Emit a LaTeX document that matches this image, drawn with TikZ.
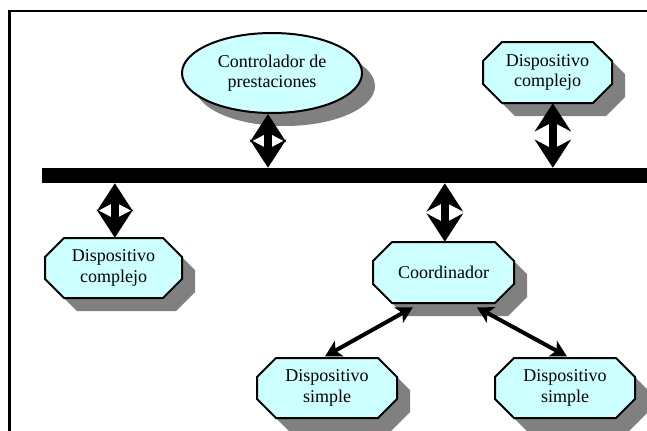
\documentclass[tikz,border=0pt]{standalone}
\usepackage{fontspec}
\setmainfont{Liberation Serif}
\usetikzlibrary{arrows.meta,shapes.geometric}

\definecolor{boxfill}{HTML}{CCFFFF}
\definecolor{shadowgray}{HTML}{808080}

% chamfer size of the octagonal boxes (pixel units)
\newcommand\chm{19}

% octagonal box: name, centre x, centre y, width, height, text
\newcommand\octbox[6]{%
  \fill[shadowgray, shift={(13,13)}]
    (#2-#4/2+\chm,#3-#5/2) -- (#2+#4/2-\chm,#3-#5/2) -- (#2+#4/2,#3-#5/2+\chm) --
    (#2+#4/2,#3+#5/2-\chm) -- (#2+#4/2-\chm,#3+#5/2) -- (#2-#4/2+\chm,#3+#5/2) --
    (#2-#4/2,#3+#5/2-\chm) -- (#2-#4/2,#3-#5/2+\chm) -- cycle;
  \filldraw[fill=boxfill, draw=black, line width=1.5pt, line join=miter]
    (#2-#4/2+\chm,#3-#5/2) -- (#2+#4/2-\chm,#3-#5/2) -- (#2+#4/2,#3-#5/2+\chm) --
    (#2+#4/2,#3+#5/2-\chm) -- (#2+#4/2-\chm,#3+#5/2) -- (#2-#4/2+\chm,#3+#5/2) --
    (#2-#4/2,#3+#5/2-\chm) -- (#2-#4/2,#3-#5/2+\chm) -- cycle;
  \node[label, minimum width=#4*0.75pt, minimum height=#5*0.75pt] (#1) at (#2,#3) {#6};%
}

\tikzset{
  label/.style={draw=none, inner sep=0pt, align=center,
    font=\fontsize{13.5}{15.5}\selectfont},
  busarrow/.style={line width=6pt,
    {Stealth[length=21pt 0 0,width=27pt 0 0,inset=7pt 0]}-{Stealth[length=21pt 0 0,width=27pt 0 0,inset=7pt 0]}},
  linkarrow/.style={line width=3pt,
    {Stealth[length=12pt 0 0,width=13pt 0 0,inset=3pt 0]}-{Stealth[length=12pt 0 0,width=13pt 0 0,inset=3pt 0]}},
}

\begin{document}
\begin{tikzpicture}[x=0.75pt, y=-0.75pt]
  \useasboundingbox (0,0) rectangle (647,430);
  \clip (0,0) rectangle (647,430);

  % outer frame
  \draw[line width=1.6pt] (9.5,11) rectangle (700,480);

  % bus
  \node[fill=black, inner sep=0pt, minimum width=620*0.75pt, minimum height=15*0.75pt,
        anchor=west] (bus) at (42,175.5) {};

  % performance controller (ellipse)
  \fill[shadowgray] (285,86) ellipse [x radius=90, y radius=40];
  \node[ellipse, fill=boxfill, draw=black, line width=1.5pt, inner sep=0pt,
        minimum width=180*0.75pt, minimum height=80*0.75pt, align=center,
        font=\fontsize{13.5}{15.5}\selectfont] (ctrl) at (272,73)
        {Controlador de\\prestaciones};

  \octbox{devtr}{547.5}{72.5}{129}{61}{Dispositivo\\complejo}
  \octbox{devl}{113.5}{268}{137}{60}{Dispositivo\\complejo}
  \octbox{coord}{443.5}{272.5}{141}{61}{Coordinador}
  \octbox{simpl}{327}{388}{140}{60}{Dispositivo\\simple}
  \octbox{simpr}{565}{388}{140}{60}{Dispositivo\\simple}

  % links to the bus
  \draw[busarrow] ([xshift=-3pt]ctrl.south) -- ([xshift=-3pt]ctrl.south |- bus.north);
  \draw[busarrow] ([xshift=4pt]devtr.south) -- ([xshift=4pt]devtr.south |- bus.north);
  \draw[busarrow] ([xshift=1pt]devl.north |- bus.south) -- ([xshift=1pt]devl.north);
  \draw[busarrow] ([xshift=1pt]coord.north |- bus.south) -- ([xshift=1pt]coord.north);

  % coordinator links
  \draw[linkarrow] ([xshift=-23pt,yshift=-3pt]coord.south) -- ([xshift=-1.5pt,yshift=1pt]simpl.north);
  \draw[linkarrow] ([xshift=25pt,yshift=-3pt]coord.south) -- ([xshift=1.5pt,yshift=1pt]simpr.north);
\end{tikzpicture}
\end{document}
